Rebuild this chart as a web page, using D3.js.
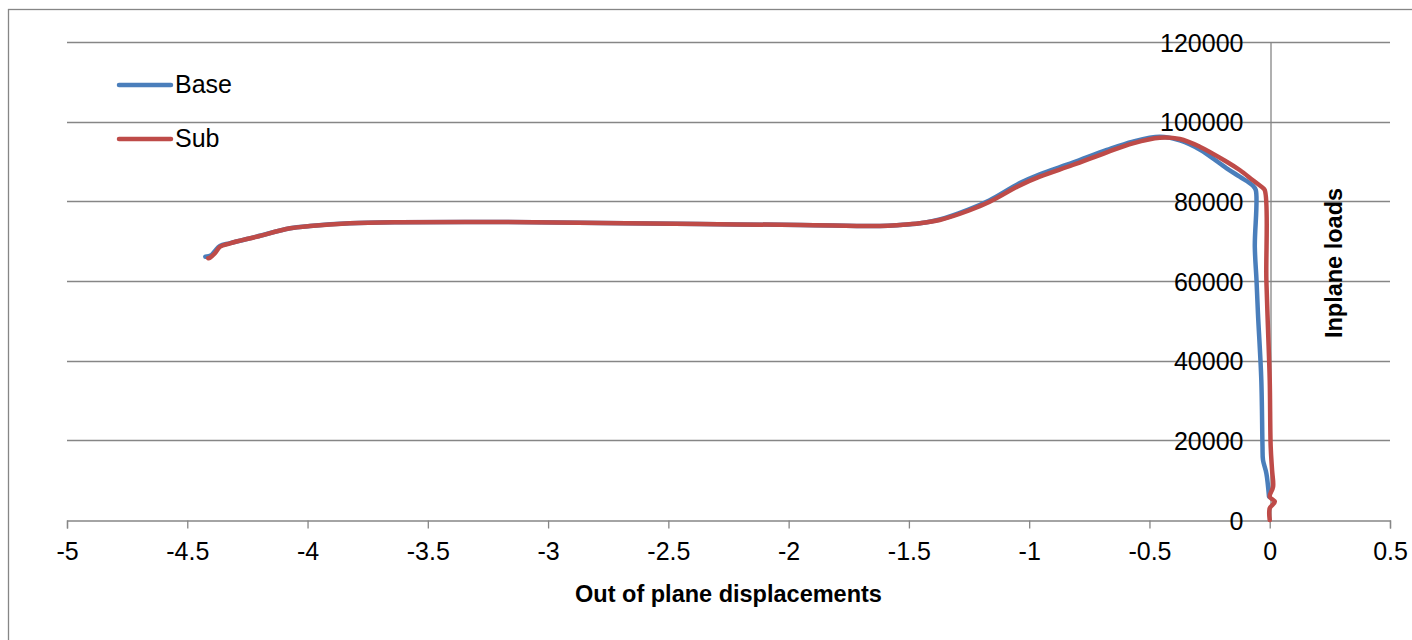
<!DOCTYPE html>
<html>
<head>
<meta charset="utf-8">
<script src="https://cdn.jsdelivr.net/npm/d3@7"></script>
<style>
  html, body { margin: 0; padding: 0; background: #fff; }
  svg { display: block; }
  .lbl { font-family: 'Liberation Sans Narrow', 'Arial Narrow', 'Liberation Sans', sans-serif; font-size: 25px; fill: #000; }
  .ttl { font-family: 'Liberation Sans Narrow', 'Arial Narrow', 'Liberation Sans', sans-serif; font-size: 23.5px; font-weight: bold; fill: #000; }
</style>
</head>
<body>
<svg id="chart" width="1412" height="640"></svg>
<script>
// ---- data ----
const xTicks = [-5, -4.5, -4, -3.5, -3, -2.5, -2, -1.5, -1, -0.5, 0, 0.5];
const xTickLabels = ["-5", "-4.5", "-4", "-3.5", "-3", "-2.5", "-2", "-1.5", "-1", "-0.5", "0", "0.5"];
const yTicks = [0, 20000, 40000, 60000, 80000, 100000, 120000];
const yTickLabels = ["0", "20000", "40000", "60000", "80000", "100000", "120000"];
const seriesNames = ["Base", "Sub"];

const baseX = [-4.425, -4.40, -4.385, -4.364, -4.322, -4.212, -4.072, -3.99, -3.824, -3.62, -3.2, -2.78, -2.37, -1.95, -1.62, -1.538, -1.455, -1.372, -1.25, -1.164, -1.039, -0.956, -0.819, -0.677, -0.569, -0.457, -0.374, -0.291, -0.179, -0.125, -0.071, -0.058, -0.062, -0.055, -0.049, -0.035, -0.030, -0.028, -0.014, -0.003];
const baseY = [66100, 66500, 67500, 68800, 69500, 71150, 73250, 73800, 74490, 74750, 74800, 74560, 74300, 74060, 73800, 74060, 74500, 75450, 78000, 80300, 84600, 86800, 89700, 92900, 95000, 96200, 95300, 93000, 88290, 86190, 84000, 82850, 68600, 60250, 51900, 35150, 18400, 15060, 11720, 5860];

const subX = [-4.413, -4.406, -4.385, -4.364, -4.322, -4.212, -4.072, -3.99, -3.824, -3.62, -3.2, -2.78, -2.37, -1.95, -1.62, -1.538, -1.455, -1.372, -1.25, -1.164, -1.039, -0.956, -0.819, -0.677, -0.569, -0.457, -0.374, -0.291, -0.179, -0.125, -0.07, -0.035, -0.021, -0.014, -0.007, 0, 0.004, 0.0097, 0.014, 0, 0.021, 0, 0];
const subY = [65700, 65850, 66950, 68600, 69460, 71120, 73230, 73800, 74490, 74750, 74800, 74560, 74300, 74060, 73800, 74060, 74500, 75315, 77700, 79900, 84000, 86190, 89120, 92310, 94570, 95980, 95650, 93720, 89950, 87870, 85300, 83680, 82850, 60250, 47700, 35150, 18400, 12550, 8370, 5860, 4600, 2930, 0];

const colors = ["#4A7EBB", "#BE4B48"];

// ---- chart ----
const svg = d3.select("#chart");
const gridColor = "#868686";

svg.append("rect")
  .attr("x", 8.5).attr("y", 9.5)
  .attr("width", 1500).attr("height", 800)
  .attr("fill", "none").attr("stroke", gridColor).attr("stroke-width", 1.3);

const x = d3.scaleLinear().domain([-5, 0.5]).range([67, 1390]);
const y = d3.scaleLinear().domain([0, 120000]).range([520, 42]);

// horizontal gridlines
svg.append("g").selectAll("line")
  .data(yTicks.filter(v => v !== 0))
  .join("line")
  .attr("x1", x(-5)).attr("x2", x(0.5))
  .attr("y1", d => Math.round(y(d)) + 0.5).attr("y2", d => Math.round(y(d)) + 0.5)
  .attr("stroke", gridColor).attr("stroke-width", 1.3);

// x axis
const xAxis = d3.axisBottom(x)
  .tickValues(xTicks)
  .tickFormat((d, i) => xTickLabels[i])
  .tickSize(8)
  .tickPadding(14);
const gx = svg.append("g")
  .attr("transform", `translate(0,${Math.round(y(0)) + 0.5})`)
  .call(xAxis);
gx.select(".domain").attr("stroke", gridColor).attr("stroke-width", 1.3);
gx.selectAll(".tick line").attr("stroke", gridColor).attr("stroke-width", 1.3);
gx.selectAll(".tick text").attr("class", "lbl").attr("dy", "0.71em");
gx.attr("font-size", null).attr("font-family", null);

// y axis at x = 0
const yAxis = d3.axisLeft(y)
  .tickValues(yTicks)
  .tickFormat((d, i) => yTickLabels[i])
  .tickSize(0)
  .tickPadding(27);
const gy = svg.append("g")
  .attr("transform", `translate(${Math.round(x(0)) + 0.5},0)`)
  .call(yAxis);
gy.select(".domain").attr("stroke", gridColor).attr("stroke-width", 1.3);
gy.selectAll(".tick text").attr("class", "lbl").attr("dy", "0.36em");
gy.attr("font-size", null).attr("font-family", null);

// lines
const line = d3.line().x(d => x(d[0])).y(d => y(d[1])).curve(d3.curveCatmullRom.alpha(0.5));
const baseData = baseX.map((v, i) => [v, baseY[i]]);
const subData = subX.map((v, i) => [v, subY[i]]);
[baseData, subData].forEach((data, i) => {
  svg.append("path")
    .datum(data)
    .attr("d", line)
    .attr("fill", "none")
    .attr("stroke", colors[i])
    .attr("stroke-width", 4.5)
    .attr("stroke-linejoin", "round")
    .attr("stroke-linecap", "round");
});

// legend
const legendY = [85, 139];
seriesNames.forEach((name, i) => {
  svg.append("line")
    .attr("x1", 119).attr("x2", 171)
    .attr("y1", legendY[i]).attr("y2", legendY[i])
    .attr("stroke", colors[i]).attr("stroke-width", 4.5)
    .attr("stroke-linecap", "round");
  svg.append("text")
    .attr("class", "lbl")
    .attr("x", 175).attr("y", legendY[i] + 8)
    .text(name);
});

// axis titles
svg.append("text")
  .attr("class", "ttl")
  .attr("x", (x(-5) + x(0.5)) / 2).attr("y", 602)
  .attr("text-anchor", "middle")
  .text("Out of plane displacements");

svg.append("text")
  .attr("class", "ttl")
  .attr("transform", "translate(1342,263) rotate(-90)")
  .attr("text-anchor", "middle")
  .text("Inplane loads");
</script>
</body>
</html>
